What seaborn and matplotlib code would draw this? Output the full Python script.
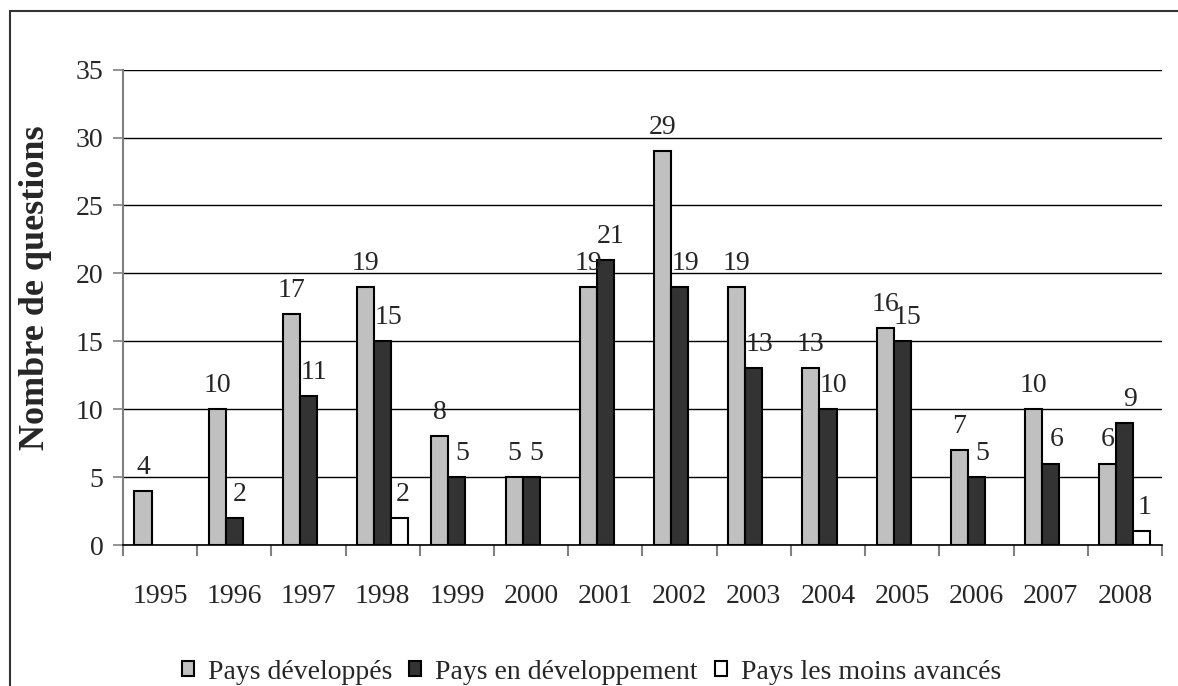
import pandas as pd
import numpy as np
import matplotlib
matplotlib.use('Agg')
import matplotlib.pyplot as plt
from matplotlib.patches import Rectangle
import seaborn as sns

# Data
years = ['1995', '1996', '1997', '1998', '1999', '2000', '2001',
         '2002', '2003', '2004', '2005', '2006', '2007', '2008']
developpes = [4, 10, 17, 19, 8, 5, 19, 29, 19, 13, 16, 7, 10, 6]
en_developpement = [0, 2, 11, 15, 5, 5, 21, 19, 13, 10, 15, 5, 6, 9]
moins_avances = [0, 0, 0, 2, 0, 0, 0, 0, 0, 0, 0, 0, 0, 1]
groups = ['Pays développés', 'Pays en développement', 'Pays les moins avancés']
colors = ['#c0c0c0', '#333333', '#ffffff']

df = pd.DataFrame({'Année': years * 3,
                   'Valeur': developpes + en_developpement + moins_avances,
                   'Groupe': [groups[0]] * 14 + [groups[1]] * 14 + [groups[2]] * 14})

sns.set_style('white')
plt.rcParams['font.family'] = ['Liberation Serif', 'DejaVu Serif']

fig = plt.figure(figsize=(11.78, 6.86), dpi=100)
ax = fig.add_axes([0.1044, 0.2055, 0.882, 0.693])

sns.barplot(data=df, x='Année', y='Valeur', hue='Groupe', palette=colors,
            width=0.69, edgecolor='black', linewidth=1.5, ax=ax, saturation=1)

# labels above bars, skip zeros; dark-bar labels nudged right like in the original
x_shift = [0, 4, 2]
for i, cont in enumerate(ax.containers):
    for b in cont:
        h = b.get_height()
        if h == 0:
            b.set_visible(False)
            continue
        ax.annotate(f'{int(h)}', (b.get_x() + b.get_width() / 2, h),
                    xytext=(x_shift[i], 8), textcoords='offset points',
                    ha='center', va='bottom', fontsize=20)

ax.set_ylim(0, 35)
ax.set_yticks(range(0, 36, 5))
ax.set_xlim(-0.5, 13.5)
ax.yaxis.grid(True, color='black', linewidth=1)
ax.set_axisbelow(True)
for s in ['top', 'right']:
    ax.spines[s].set_visible(False)
ax.spines['left'].set_color('#808080')
ax.spines['left'].set_linewidth(1.5)
ax.spines['bottom'].set_color('black')
ax.spines['bottom'].set_linewidth(1.2)

ax.tick_params(axis='y', labelsize=20, length=7, width=1.2, color='#808080',
               pad=7, left=True)
ax.tick_params(axis='x', which='major', labelsize=20, length=0, pad=28)
ax.set_xticks(np.arange(-0.5, 14, 1), minor=True)
ax.tick_params(axis='x', which='minor', length=8, width=1.5, color='#808080',
               bottom=True)

ax.set_xlabel('')
ax.set_ylabel('Nombre de questions', fontsize=26, fontweight='bold')
ax.yaxis.set_label_coords(-0.068, 0.541)

ax.get_legend().remove()
handles, lbls = ax.get_legend_handles_labels()
fig.legend(handles, lbls, loc='center', bbox_to_anchor=(0.502, 0.02), ncol=3,
           frameon=False, fontsize=20, handlelength=0.45, handleheight=0.45,
           handletextpad=0.5, columnspacing=0.6)

# outer frame of the chart area
fig.patches.append(Rectangle((10 / 1178, -0.1), 1.2, 1.1 - 11 / 686,
                             transform=fig.transFigure, fill=False,
                             edgecolor='#333333', linewidth=1.5))

fig.savefig('out.png', dpi=100)
